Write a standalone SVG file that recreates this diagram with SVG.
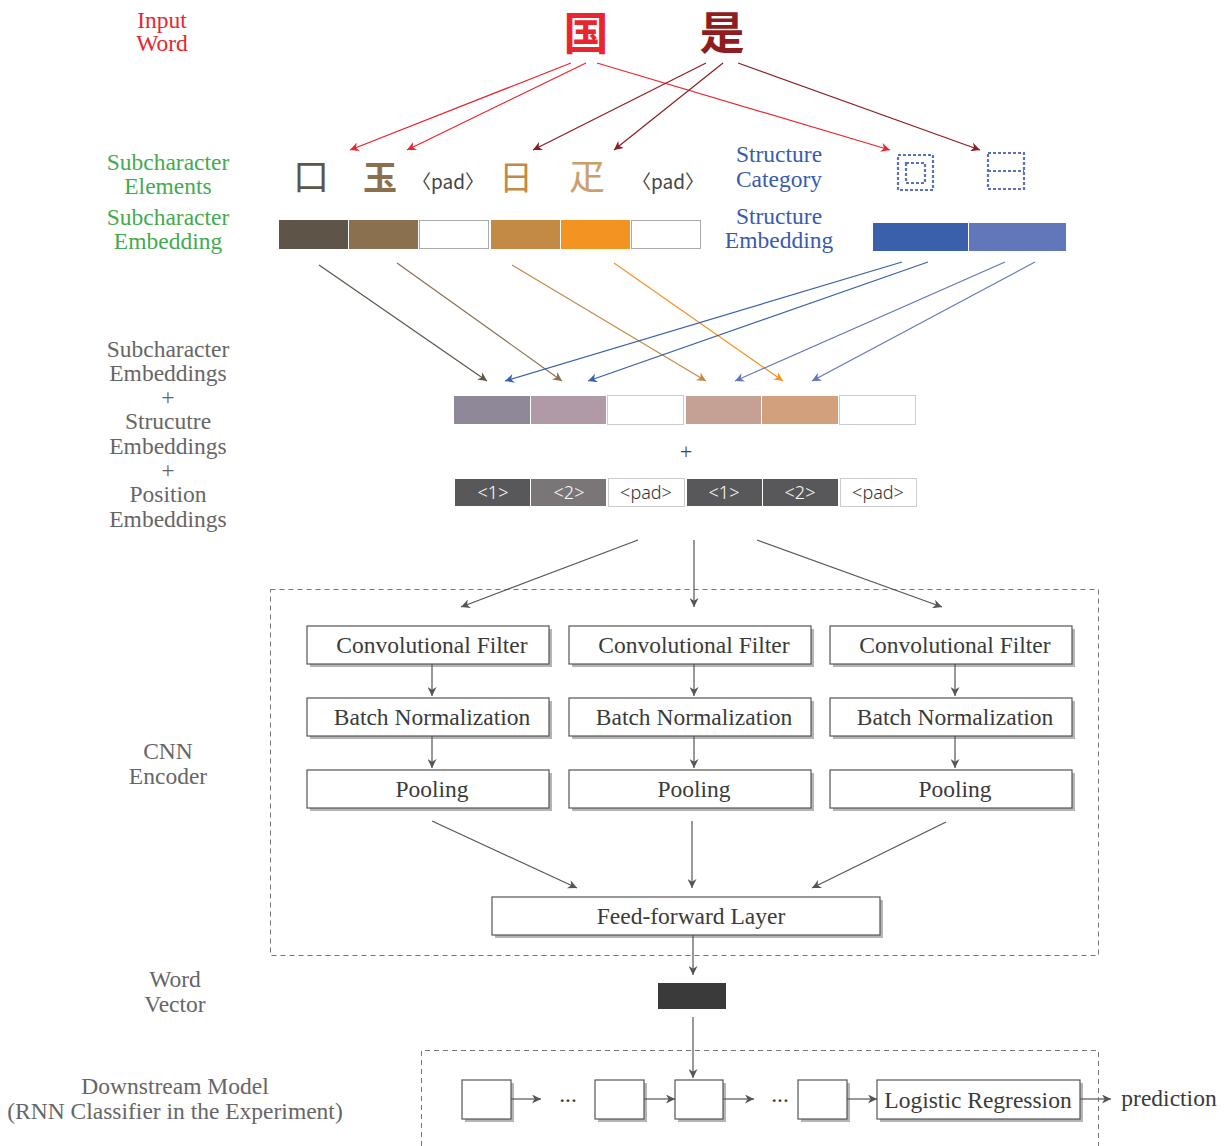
<svg xmlns="http://www.w3.org/2000/svg" width="1229" height="1146" viewBox="0 0 1229 1146">
<style>
.lbl{font-family:"Liberation Serif","DejaVu Serif",serif;font-size:23.5px;text-anchor:middle;fill:#666}
.red{fill:#e8262e}.green{fill:#44aa50}.blue{fill:#3a5ab0}
.box{fill:#fff;stroke:#555;stroke-width:1.2}
.shd{fill:#b5b5b5}
.bt{font-family:"Liberation Serif","DejaVu Serif",serif;font-size:23.5px;text-anchor:middle;fill:#3a3a3a}
.pos{font-family:"Noto Sans","DejaVu Sans",sans-serif;font-weight:300;font-size:18px;text-anchor:middle}
.cjk{font-family:"Noto Sans CJK SC",sans-serif;text-anchor:middle}
.pad{font-family:"Noto Sans CJK SC","Noto Sans",sans-serif;font-size:19px;text-anchor:middle;fill:#444}
.dash{fill:none;stroke:#777;stroke-width:1;stroke-dasharray:5,4}
.sd{fill:none;stroke:#5a72bb;stroke-width:2.2;stroke-dasharray:3,2}
.c{fill:none;stroke-width:1.2}
.g{stroke:#555;marker-end:url(#mg)}
</style>
<defs>
<marker id="mg" viewBox="0 0 10 10" refX="10" refY="5" markerUnits="userSpaceOnUse" markerWidth="11" markerHeight="9" orient="auto"><path d="M0,0L10,5L0,10L3,5z" fill="#555"/></marker>
<marker id="mr" viewBox="0 0 10 10" refX="10" refY="5" markerUnits="userSpaceOnUse" markerWidth="11" markerHeight="9" orient="auto"><path d="M0,0L10,5L0,10L3,5z" fill="#e8262e"/></marker>
<marker id="mdr" viewBox="0 0 10 10" refX="10" refY="5" markerUnits="userSpaceOnUse" markerWidth="11" markerHeight="9" orient="auto"><path d="M0,0L10,5L0,10L3,5z" fill="#8e1c20"/></marker>
<marker id="mb1" viewBox="0 0 10 10" refX="10" refY="5" markerUnits="userSpaceOnUse" markerWidth="11" markerHeight="9" orient="auto"><path d="M0,0L10,5L0,10L3,5z" fill="#5e5448"/></marker>
<marker id="mb2" viewBox="0 0 10 10" refX="10" refY="5" markerUnits="userSpaceOnUse" markerWidth="11" markerHeight="9" orient="auto"><path d="M0,0L10,5L0,10L3,5z" fill="#8b7050"/></marker>
<marker id="mt" viewBox="0 0 10 10" refX="10" refY="5" markerUnits="userSpaceOnUse" markerWidth="11" markerHeight="9" orient="auto"><path d="M0,0L10,5L0,10L3,5z" fill="#c38a45"/></marker>
<marker id="mo" viewBox="0 0 10 10" refX="10" refY="5" markerUnits="userSpaceOnUse" markerWidth="11" markerHeight="9" orient="auto"><path d="M0,0L10,5L0,10L3,5z" fill="#f39322"/></marker>
<marker id="mbl1" viewBox="0 0 10 10" refX="10" refY="5" markerUnits="userSpaceOnUse" markerWidth="11" markerHeight="9" orient="auto"><path d="M0,0L10,5L0,10L3,5z" fill="#3a5fab"/></marker>
<marker id="mbl2" viewBox="0 0 10 10" refX="10" refY="5" markerUnits="userSpaceOnUse" markerWidth="11" markerHeight="9" orient="auto"><path d="M0,0L10,5L0,10L3,5z" fill="#6276ba"/></marker>
</defs>
<rect width="1229" height="1146" fill="#fff"/>

<g id="labels">
<text class="lbl red" x="162" y="28">Input</text>
<text class="lbl red" x="162" y="51">Word</text>
<text class="lbl green" x="168" y="170">Subcharacter</text>
<text class="lbl green" x="168" y="194">Elements</text>
<text class="lbl green" x="168" y="225">Subcharacter</text>
<text class="lbl green" x="168" y="249">Embedding</text>
<text class="lbl" x="168" y="357">Subcharacter</text>
<text class="lbl" x="168" y="381">Embeddings</text>
<text class="lbl" x="168" y="405">+</text>
<text class="lbl" x="168" y="429">Strucutre</text>
<text class="lbl" x="168" y="454">Embeddings</text>
<text class="lbl" x="168" y="478">+</text>
<text class="lbl" x="168" y="502">Position</text>
<text class="lbl" x="168" y="527">Embeddings</text>
<text class="lbl" x="168" y="759">CNN</text>
<text class="lbl" x="168" y="784">Encoder</text>
<text class="lbl" x="175" y="987">Word</text>
<text class="lbl" x="175" y="1012">Vector</text>
<text class="lbl" x="175" y="1094">Downstream Model</text>
<text class="lbl" x="175" y="1119">(RNN Classifier in the Experiment)</text>
<text class="lbl blue" x="779" y="162">Structure</text>
<text class="lbl blue" x="779" y="187">Category</text>
<text class="lbl blue" x="779" y="224">Structure</text>
<text class="lbl blue" x="779" y="248">Embedding</text>
</g>

<g id="input-word">
<text class="cjk" x="586" y="50" font-size="45" font-weight="700" fill="#e8262e">国</text>
<text class="cjk" x="722" y="50" font-size="45" font-weight="700" fill="#8e1c20">是</text>
</g>

<g id="subchar-elements">
<text class="cjk" x="311" y="190" font-size="36" fill="#5e5448">口</text>
<text class="cjk" x="380" y="190" font-size="34" font-weight="700" fill="#8b7050">玉</text>
<text class="pad" x="448" y="189">〈pad〉</text>
<text class="cjk" x="516" y="190" font-size="34" fill="#c38a45">日</text>
<text class="cjk" x="587" y="190" font-size="36" fill="#c9a06a">疋</text>
<text class="pad" x="668" y="189">〈pad〉</text>
</g>

<g id="structure-category">
<rect class="sd" x="898" y="155" width="35" height="35"/>
<rect class="sd" x="906" y="163" width="19" height="20"/>
<rect class="sd" x="988" y="153" width="36" height="36"/>
<line class="sd" x1="988" y1="171" x2="1024" y2="171"/>
</g>

<g id="subchar-embedding">
<rect x="279" y="220" width="69" height="29" fill="#5e5448"/>
<rect x="349" y="220" width="69" height="29" fill="#8b7050"/>
<rect x="419.5" y="220.5" width="69" height="28" fill="#fff" stroke="#aaa"/>
<rect x="491" y="220" width="69" height="29" fill="#c38a45"/>
<rect x="561" y="220" width="69" height="29" fill="#f39322"/>
<rect x="631.5" y="220.5" width="69" height="28" fill="#fff" stroke="#aaa"/>
</g>

<g id="structure-embedding">
<rect x="873" y="223" width="95" height="28" fill="#3a5fab"/>
<rect x="969" y="223" width="97" height="28" fill="#6276ba"/>
</g>

<g id="combined-embedding">
<rect x="454" y="396" width="76" height="28" fill="#8f8898"/>
<rect x="531" y="396" width="75" height="28" fill="#b09aa8"/>
<rect x="607.5" y="395.5" width="76" height="29" fill="#fff" stroke="#ccc"/>
<rect x="686" y="396" width="75" height="28" fill="#c5a095"/>
<rect x="762" y="396" width="76" height="28" fill="#d3a07e"/>
<rect x="839.5" y="395.5" width="76" height="29" fill="#fff" stroke="#ccc"/>
<text x="686" y="460" font-family="Noto Sans,sans-serif" font-weight="300" font-size="22" text-anchor="middle" fill="#444">+</text>
</g>

<g id="position-embedding">
<rect x="455" y="479" width="75" height="27" fill="#58585a"/>
<rect x="531" y="479" width="75" height="27" fill="#7a7576"/>
<rect x="608.5" y="478.5" width="76" height="28" fill="#fff" stroke="#ccc"/>
<rect x="687" y="479" width="75" height="27" fill="#58585a"/>
<rect x="763" y="479" width="75" height="27" fill="#58585a"/>
<rect x="840.5" y="478.5" width="76" height="28" fill="#fff" stroke="#ccc"/>
<text class="pos" x="493" y="499" fill="#fff">&lt;1&gt;</text>
<text class="pos" x="569" y="499" fill="#fff">&lt;2&gt;</text>
<text class="pos" x="646" y="499" fill="#333">&lt;pad&gt;</text>
<text class="pos" x="724" y="499" fill="#fff">&lt;1&gt;</text>
<text class="pos" x="800" y="499" fill="#fff">&lt;2&gt;</text>
<text class="pos" x="878" y="499" fill="#333">&lt;pad&gt;</text>
</g>

<g id="cnn-encoder">
<rect class="dash" x="270.5" y="589.5" width="828" height="366"/>
</g>

<g id="conv1"><rect class="shd" x="310" y="629" width="242" height="38"/><rect class="box" x="307" y="626" width="242" height="38"/><text class="bt" x="432" y="653">Convolutional Filter</text></g>
<g id="conv2"><rect class="shd" x="572" y="629" width="242" height="38"/><rect class="box" x="569" y="626" width="242" height="38"/><text class="bt" x="694" y="653">Convolutional Filter</text></g>
<g id="conv3"><rect class="shd" x="833" y="629" width="242" height="38"/><rect class="box" x="830" y="626" width="242" height="38"/><text class="bt" x="955" y="653">Convolutional Filter</text></g>
<g id="bn1"><rect class="shd" x="310" y="701" width="242" height="38"/><rect class="box" x="307" y="698" width="242" height="38"/><text class="bt" x="432" y="725">Batch Normalization</text></g>
<g id="bn2"><rect class="shd" x="572" y="701" width="242" height="38"/><rect class="box" x="569" y="698" width="242" height="38"/><text class="bt" x="694" y="725">Batch Normalization</text></g>
<g id="bn3"><rect class="shd" x="833" y="701" width="242" height="38"/><rect class="box" x="830" y="698" width="242" height="38"/><text class="bt" x="955" y="725">Batch Normalization</text></g>
<g id="pool1"><rect class="shd" x="310" y="773" width="242" height="38"/><rect class="box" x="307" y="770" width="242" height="38"/><text class="bt" x="432" y="797">Pooling</text></g>
<g id="pool2"><rect class="shd" x="572" y="773" width="242" height="38"/><rect class="box" x="569" y="770" width="242" height="38"/><text class="bt" x="694" y="797">Pooling</text></g>
<g id="pool3"><rect class="shd" x="833" y="773" width="242" height="38"/><rect class="box" x="830" y="770" width="242" height="38"/><text class="bt" x="955" y="797">Pooling</text></g>
<g id="ffn"><rect class="shd" x="495" y="900" width="388" height="38"/><rect class="box" x="492" y="897" width="388" height="38"/><text class="bt" x="691" y="924">Feed-forward Layer</text></g>

<g id="word-vector"><rect x="658" y="983" width="68" height="26" fill="#3a3a3a"/></g>

<g id="downstream">
<path class="dash" d="M421.5,1146V1050.5H1098.5V1146"/>
</g>
<g id="rnn1"><rect class="shd" x="465" y="1083" width="49" height="39"/><rect class="box" x="462" y="1080" width="49" height="39"/></g>
<g id="rnn2"><rect class="shd" x="598" y="1083" width="49" height="39"/><rect class="box" x="595" y="1080" width="49" height="39"/></g>
<g id="rnn3"><rect class="shd" x="678" y="1083" width="48" height="39"/><rect class="box" x="675" y="1080" width="48" height="39"/></g>
<g id="rnn4"><rect class="shd" x="801" y="1083" width="49" height="39"/><rect class="box" x="798" y="1080" width="49" height="39"/></g>
<g id="logreg"><rect class="shd" x="880" y="1083" width="203" height="39"/><rect class="box" x="877" y="1080" width="203" height="39"/><text class="bt" x="978" y="1108">Logistic Regression</text></g>
<g id="dots1"><text class="bt" x="568" y="1102">...</text></g>
<g id="dots2"><text class="bt" x="780" y="1102">...</text></g>
<g id="prediction"><text class="bt" x="1169" y="1106" font-size="25">prediction</text></g>

<g id="connectors">
<line class="c" stroke="#e8262e" marker-end="url(#mr)" x1="571" y1="63" x2="350" y2="150"/>
<line class="c" stroke="#e8262e" marker-end="url(#mr)" x1="586" y1="63" x2="407" y2="150"/>
<line class="c" stroke="#e8262e" marker-end="url(#mr)" x1="597" y1="63" x2="890" y2="150"/>
<line class="c" stroke="#8e1c20" marker-end="url(#mdr)" x1="706" y1="63" x2="533" y2="150"/>
<line class="c" stroke="#8e1c20" marker-end="url(#mdr)" x1="723" y1="63" x2="614" y2="150"/>
<line class="c" stroke="#8e1c20" marker-end="url(#mdr)" x1="738" y1="63" x2="980" y2="150"/>

<line class="c" stroke="#5e5448" marker-end="url(#mb1)" x1="319" y1="265" x2="487" y2="381"/>
<line class="c" stroke="#8b7050" marker-end="url(#mb2)" x1="397" y1="263" x2="562" y2="381"/>
<line class="c" stroke="#c38a45" marker-end="url(#mt)" x1="512" y1="265" x2="706" y2="381"/>
<line class="c" stroke="#f39322" marker-end="url(#mo)" x1="614" y1="263" x2="783" y2="381"/>
<line class="c" stroke="#3a5fab" marker-end="url(#mbl1)" x1="902" y1="262" x2="505" y2="381"/>
<line class="c" stroke="#3a5fab" marker-end="url(#mbl1)" x1="928" y1="262" x2="588" y2="381"/>
<line class="c" stroke="#6276ba" marker-end="url(#mbl2)" x1="1005" y1="262" x2="735" y2="381"/>
<line class="c" stroke="#6276ba" marker-end="url(#mbl2)" x1="1035" y1="262" x2="812" y2="381"/>

<line class="c g" x1="638" y1="540" x2="461" y2="607"/>
<line class="c g" x1="694" y1="540" x2="694" y2="607"/>
<line class="c g" x1="757" y1="540" x2="942" y2="607"/>

<line class="c g" x1="432" y1="664" x2="432" y2="696"/>
<line class="c g" x1="694" y1="664" x2="694" y2="696"/>
<line class="c g" x1="955" y1="664" x2="955" y2="696"/>
<line class="c g" x1="432" y1="736" x2="432" y2="768"/>
<line class="c g" x1="694" y1="736" x2="694" y2="768"/>
<line class="c g" x1="955" y1="736" x2="955" y2="768"/>

<line class="c g" x1="432" y1="821" x2="577" y2="888"/>
<line class="c g" x1="692" y1="821" x2="692" y2="888"/>
<line class="c g" x1="946" y1="822" x2="812" y2="888"/>

<line class="c g" x1="693" y1="935" x2="693" y2="975"/>
<line class="c g" x1="693" y1="1017" x2="693" y2="1078"/>

<line class="c g" x1="511" y1="1099" x2="541" y2="1099"/>
<line class="c g" x1="644" y1="1099" x2="675" y2="1099"/>
<line class="c g" x1="723" y1="1099" x2="754" y2="1099"/>
<line class="c g" x1="847" y1="1099" x2="877" y2="1099"/>
<line class="c g" x1="1080" y1="1099" x2="1111" y2="1099"/>
</g>
</svg>
